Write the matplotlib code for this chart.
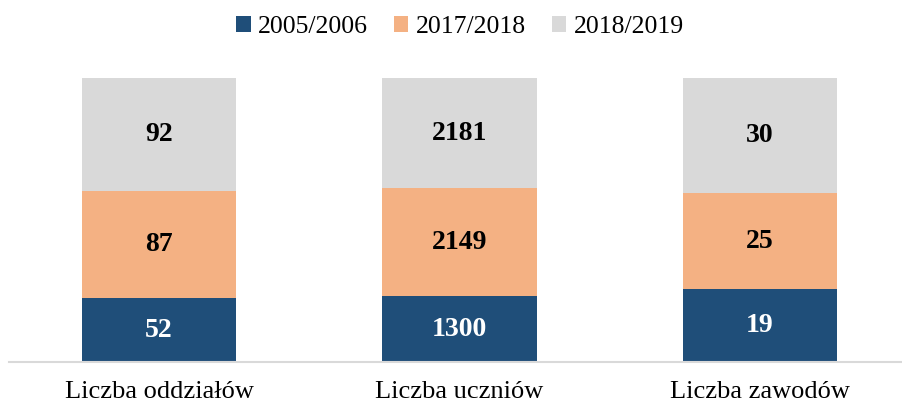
import matplotlib
matplotlib.use('Agg')
import matplotlib.pyplot as plt
import numpy as np

plt.rcParams['font.family'] = ['Liberation Serif', 'DejaVu Serif']

CATEGORIES = ['Liczba oddziałów', 'Liczba uczniów', 'Liczba zawodów']
SERIES = ['2005/2006', '2017/2018', '2018/2019']
V_2005 = [52, 1300, 19]
V_2017 = [87, 2149, 25]
V_2018 = [92, 2181, 30]
COLORS = ['#1F4E79', '#F4B183', '#D9D9D9']
TEXT_COLORS = ['white', 'black', 'black']

data = np.array([V_2005, V_2017, V_2018], dtype=float)
shares = data / data.sum(axis=0)
x = np.arange(len(CATEGORIES))

fig = plt.figure(figsize=(9.02, 4.05), dpi=100)
ax = fig.add_axes([8.75 / 902, 1 - 362 / 405, 901.5 / 902, 284 / 405])

bottom = np.zeros(len(CATEGORIES))
for i, name in enumerate(SERIES):
    ax.bar(x, shares[i], 0.515, bottom=bottom, color=COLORS[i], label=name)
    for j in range(len(CATEGORIES)):
        ax.text(x[j], bottom[j] + shares[i][j] / 2, f'{int(data[i][j])}',
                ha='center', va='center', color=TEXT_COLORS[i],
                fontsize=20, fontweight='bold')
    bottom += shares[i]

ax.set_xlim(-0.5, len(CATEGORIES) - 0.5)
ax.set_ylim(0, 1)
ax.set_xticks(x)
ax.set_xticklabels(CATEGORIES, fontsize=19)
ax.tick_params(axis='x', length=0, pad=14)
ax.set_yticks([])
for s in ['top', 'left', 'right']:
    ax.spines[s].set_visible(False)
ax.spines['bottom'].set_color('#D9D9D9')
ax.spines['bottom'].set_linewidth(1.5)

fig.legend(loc='center', bbox_to_anchor=(0.51, 1 - 27 / 405), ncol=3, frameon=False,
           fontsize=18.5, handlelength=0.55, handleheight=0.55, handletextpad=0.3,
           columnspacing=1.0)

fig.savefig('out.png', dpi=100)
